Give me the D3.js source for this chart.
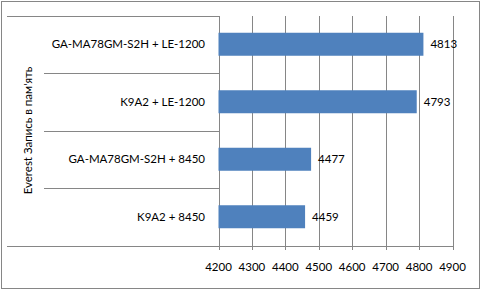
<!DOCTYPE html>
<html lang="ru">
<head>
	<meta charset="UTF-8">
	<title>Everest</title>
	<style>
		body{margin:0;background:#fff;}
		svg{display:block;font-family:Lato, "Open Sans", sans-serif;}
		.grid{stroke:#868686;stroke-width:1px;shape-rendering:crispEdges;}
		.bar{fill:#4f81bd;}
		text{fill:#000;font-size:11.5px;}
	</style>
</head>
<body>
<script src="https://d3js.org/d3.v7.min.js"></script>
<script>
	// data, top to bottom as in the picture
	var categories = ['GA-MA78GM-S2H + LE-1200', 'K9A2 + LE-1200', 'GA-MA78GM-S2H + 8450', 'K9A2 + 8450'];
	var values = [4813, 4793, 4477, 4459];
	var tickValues = [4200, 4300, 4400, 4500, 4600, 4700, 4800, 4900];
	var axisTitle = 'Everest Запись в пам\'ять';

	var W = 485, H = 293;
	// plot area (note: "top" is a reserved window prop, so prefixed names)
	var pLeft = 218.5, pRight = 452.5, pTop = 15.5, pBottom = 245.5;

	var svg = d3.select('body').append('svg')
		.attr('width', W)
		.attr('height', H);

	// outer frame
	svg.append('rect')
		.attr('class', 'grid')
		.attr('x', 1.5).attr('y', 1.5)
		.attr('width', 478).attr('height', 287)
		.attr('fill', 'none');

	var x = d3.scaleLinear().domain([4200, 4900]).range([pLeft, pRight]);
	var y = d3.scaleBand().domain(categories).range([pTop, pBottom])
		.paddingInner(0.6).paddingOuter(0.3);

	// vertical gridlines + ticks below
	svg.selectAll('.vline')
		.data(tickValues)
		.enter().append('line')
			.attr('class', 'grid')
			.attr('x1', d => Math.round(x(d)) + 0.5)
			.attr('x2', d => Math.round(x(d)) + 0.5)
			.attr('y1', pTop)
			.attr('y2', pBottom + 4);

	// category separators
	var step = y.step();
	var seps = d3.range(categories.length + 1);
	svg.selectAll('.hline')
		.data(seps)
		.enter().append('line')
			.attr('class', 'grid')
			.attr('x1', i => (i === 0 || i === categories.length) ? 7 : 44)
			.attr('x2', i => i === categories.length ? pRight : pLeft)
			.attr('y1', i => Math.round(pTop + i * step) + 0.5)
			.attr('y2', i => Math.round(pTop + i * step) + 0.5);

	// bars
	svg.selectAll('.bar')
		.data(values)
		.enter().append('rect')
			.attr('class', 'bar')
			.attr('x', x(4200))
			.attr('y', (d, i) => y(categories[i]))
			.attr('width', d => x(d) - x(4200))
			.attr('height', y.bandwidth());

	// value labels
	svg.selectAll('.val')
		.data(values)
		.enter().append('text')
			.attr('x', d => x(d) + 7)
			.attr('y', (d, i) => y(categories[i]) + y.bandwidth() / 2)
			.attr('dy', '0.35em')
			.text(d => d);

	// category labels
	svg.selectAll('.cat')
		.data(categories)
		.enter().append('text')
			.attr('x', 205)
			.attr('y', d => y(d) + y.bandwidth() / 2)
			.attr('dy', '0.35em')
			.attr('text-anchor', 'end')
			.text(d => d);

	// tick labels
	svg.selectAll('.tlabel')
		.data(tickValues)
		.enter().append('text')
			.attr('x', d => x(d))
			.attr('y', 267)
			.attr('dy', '0.35em')
			.attr('text-anchor', 'middle')
			.text(d => d);

	// axis title
	svg.append('text')
		.attr('transform', 'translate(28,' + (pTop + pBottom) / 2 + ') rotate(-90)')
		.attr('text-anchor', 'middle')
		.attr('dy', '0.35em')
		.text(axisTitle);
</script>
</body>
</html>
